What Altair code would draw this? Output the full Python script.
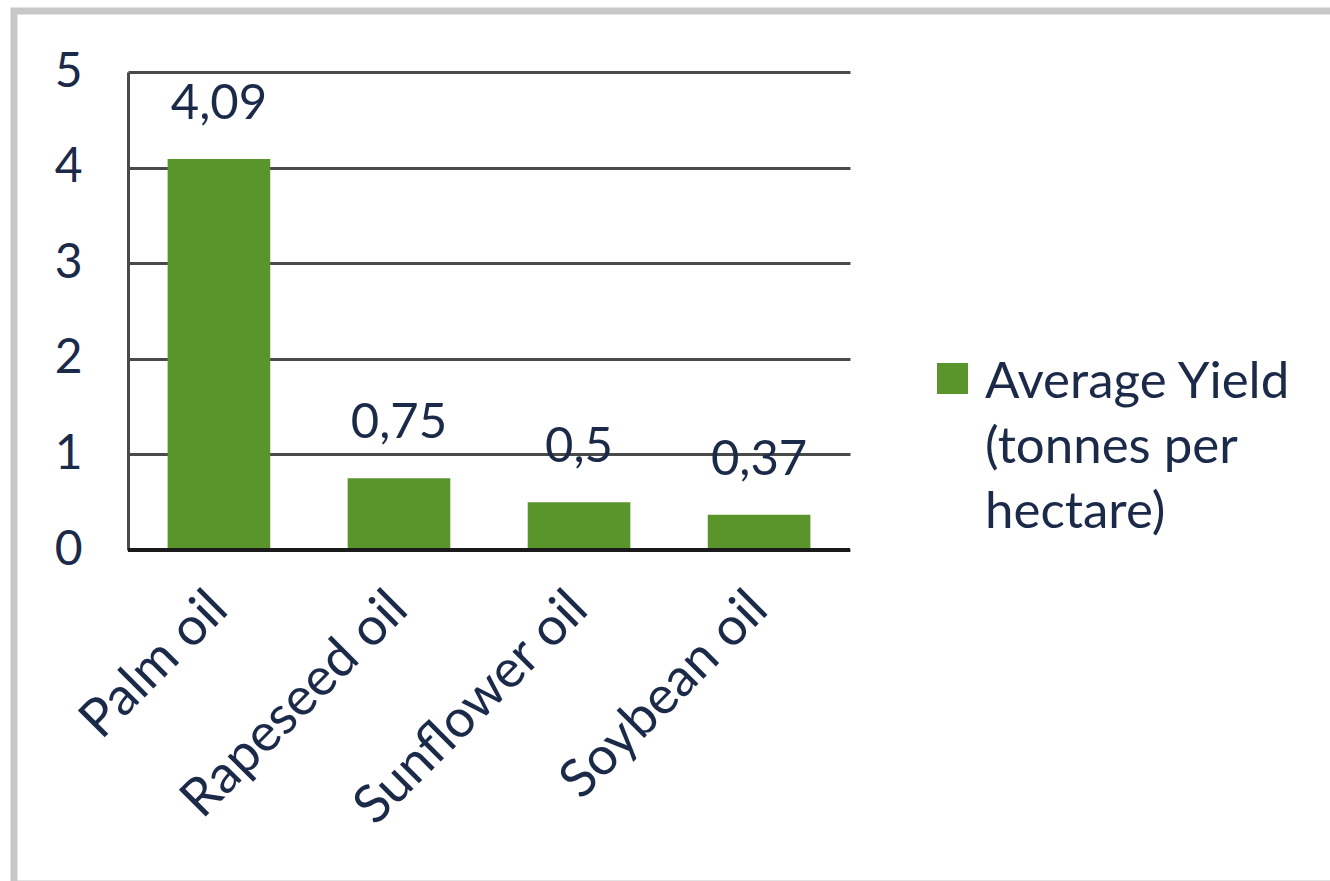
import altair as alt
import pandas as pd

# Average yield of vegetable oil crops
crops = ["Palm oil", "Rapeseed oil", "Sunflower oil", "Soybean oil"]
yields = [4.09, 0.75, 0.5, 0.37]
series_name = "Average Yield\n(tonnes per\nhectare)"

BAR_GREEN = "#5a952b"
TEXT_NAVY = "#1c2a4a"
FONT = "Lato"

df = pd.DataFrame({"crop": crops, "yield": yields})

x_enc = alt.X(
    "crop:N",
    sort=crops,
    title=None,
    scale=alt.Scale(paddingInner=0.43, paddingOuter=0.22),
    axis=alt.Axis(
        labelAngle=-45,
        labelAlign="right",
        labelBaseline="middle",
        labelFontSize=53,
        labelFont=FONT,
        labelColor=TEXT_NAVY,
        labelPadding=50,
        labelLimit=400,
        ticks=False,
        domain=False,
        grid=False,
    ),
)
y_enc = alt.Y(
    "yield:Q",
    title=None,
    scale=alt.Scale(domain=[0, 5], nice=False),
    axis=alt.Axis(
        values=[0, 1, 2, 3, 4, 5],
        format="d",
        labelFontSize=48,
        labelFont=FONT,
        labelColor=TEXT_NAVY,
        labelPadding=46,
        ticks=False,
        domain=True,
        domainColor="#4a4a4a",
        domainWidth=3,
        grid=True,
        gridColor="#4a4a4a",
        gridWidth=3,
    ),
)

base = alt.Chart(df)

bars = base.mark_bar(color=BAR_GREEN).encode(x=x_enc, y=y_enc)

# zero baseline drawn darker
baseline = base.mark_rule(color="#1a1a1a", strokeWidth=4).encode(
    y=alt.datum(0), x=alt.value(0), x2=alt.value(722)
)

values = (
    base.transform_calculate(label="replace(toString(datum['yield']), '.', ',')")
    .mark_text(
        fontSize=49,
        font=FONT,
        color=TEXT_NAVY,
        baseline="alphabetic",
        dy=-40,
    )
    .encode(x=alt.X("crop:N", sort=crops), y="yield:Q", text="label:N")
)

legend_src = alt.Chart(pd.DataFrame({"series": [series_name]}))
legend_box = legend_src.mark_rect(color=BAR_GREEN).encode(
    x=alt.value(809), x2=alt.value(840), y=alt.value(291), y2=alt.value(322)
)
legend_text = legend_src.mark_text(
    fontSize=51,
    font=FONT,
    color=TEXT_NAVY,
    align="left",
    baseline="alphabetic",
    lineBreak="\n",
    lineHeight=65,
).encode(x=alt.value(857), y=alt.value(326), text="series:N")

frame = legend_src.mark_rect(
    fill=None, stroke="#c8c8c8", strokeWidth=7
).encode(x=alt.value(-114), x2=alt.value(1215), y=alt.value(-61), y2=alt.value(812))

chart = (
    alt.layer(frame, bars, baseline, values, legend_box, legend_text)
    .properties(
        width=722,
        height=478,
        autosize=alt.AutoSizeParams(type="none"),
        padding={"left": 128, "top": 72, "right": 480, "bottom": 331},
        background="white",
    )
    .configure_view(stroke=None)
)

chart.save("out.html", embed_options={"renderer": "svg", "actions": False})
